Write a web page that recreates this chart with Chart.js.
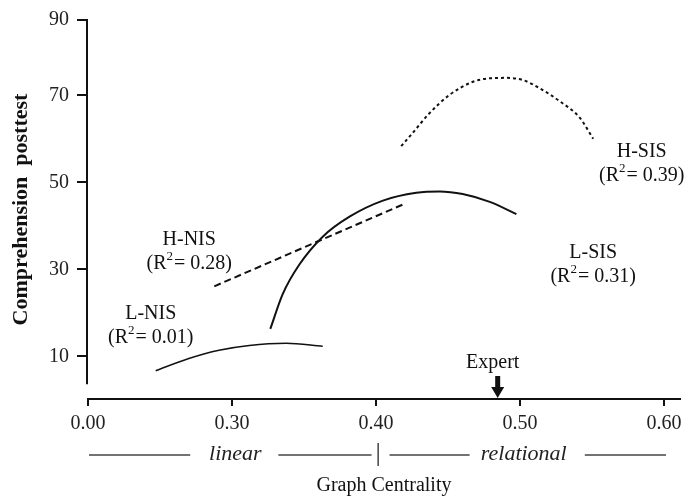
<!DOCTYPE html>
<html>
<head>
<meta charset="utf-8">
<script src="https://cdn.jsdelivr.net/npm/chart.js@4.4.1/dist/chart.umd.min.js"></script>
<style>
  body { margin: 0; background: #fff; }
  #wrap { width: 688px; height: 499px; }
</style>
</head>
<body>
<div id="wrap"><canvas id="myChart"></canvas></div>
<script>
// curves (x = graph centrality, y = comprehension posttest)
// note: the x axis is broken, the first tick "0.00" sits where 0.20 would be
const lNisX = [0.247, 0.270, 0.291, 0.312, 0.3375, 0.363];
const lNisY = [6.7, 9.5, 11.4, 12.5, 13.0, 12.3];

const hNisX = [0.2877, 0.4187];
const hNisY = [26.1, 44.9];

const lSisX = [0.3266, 0.3352, 0.3468, 0.363, 0.3816, 0.4048, 0.428, 0.4442, 0.4602, 0.479, 0.4975];
const lSisY = [16.3, 24.3, 31.1, 37.5, 42.1, 45.8, 47.6, 47.9, 47.3, 45.5, 42.7];

const hSisX = [0.4175, 0.4256, 0.4372, 0.4511, 0.4673, 0.479, 0.4906, 0.5021, 0.5137, 0.5277, 0.5416, 0.5508];
const hSisY = [58.3, 61.4, 65.9, 70.1, 73.1, 73.9, 74.0, 73.5, 71.6, 68.6, 64.8, 60.0];

const xTickValues = [0.2, 0.3, 0.4, 0.5, 0.6];
const xTickLabels = ['0.00', '0.30', '0.40', '0.50', '0.60'];
const yTickValues = [10, 30, 50, 70, 87.3];
const yTickLabels = ['10', '30', '50', '70', '90'];

const groupNames = ['L-NIS', 'H-NIS', 'L-SIS', 'H-SIS'];
const groupR2 = ['0.01', '0.28', '0.31', '0.39'];
const expertX = 0.4845;

// where the group labels sit (data units)
const labelPos = [
  { x: 0.2436, y: 19.8 },
  { x: 0.2703, y: 36.8 },
  { x: 0.5508, y: 33.9 },
  { x: 0.5845, y: 57.0 }
];

const SERIF = '"Liberation Serif", "Times New Roman", serif';

function toPoints(xs, ys) {
  return xs.map((x, i) => ({ x: x, y: ys[i] }));
}

function drawR2(ctx, r2, cx, cy) {
  const main = '20px ' + SERIF;
  const sup = '13px ' + SERIF;
  ctx.font = main;
  const w1 = ctx.measureText('(R').width;
  const w3 = ctx.measureText('= ' + r2 + ')').width;
  ctx.font = sup;
  const w2 = ctx.measureText('2').width + 1;
  let x = cx - (w1 + w2 + w3) / 2;
  ctx.textAlign = 'left';
  ctx.textBaseline = 'middle';
  ctx.font = main;
  ctx.fillText('(R', x, cy);
  x += w1;
  ctx.font = sup;
  ctx.fillText('2', x, cy - 7);
  x += w2;
  ctx.font = main;
  ctx.fillText('= ' + r2 + ')', x, cy);
}

const extras = {
  id: 'extras',
  afterDraw(chart) {
    const ctx = chart.ctx;
    const xs = chart.scales.x;
    const ys = chart.scales.y;
    const area = chart.chartArea;
    ctx.save();
    ctx.fillStyle = '#111';
    ctx.strokeStyle = '#111';

    // y axis line stops short of the x axis
    ctx.lineWidth = 2;
    ctx.beginPath();
    ctx.moveTo(area.left - 1, area.top);
    ctx.lineTo(area.left - 1, ys.getPixelForValue(3.6));
    ctx.stroke();

    // group labels
    groupNames.forEach((name, i) => {
      const px = xs.getPixelForValue(labelPos[i].x);
      const py = ys.getPixelForValue(labelPos[i].y);
      ctx.font = '20px ' + SERIF;
      ctx.textAlign = 'center';
      ctx.textBaseline = 'middle';
      ctx.fillText(name, px, py);
      drawR2(ctx, groupR2[i], px, py + 24);
    });

    // expert marker
    const ex = xs.getPixelForValue(expertX);
    const base = area.bottom - 1;
    ctx.font = '20px ' + SERIF;
    ctx.textAlign = 'center';
    ctx.textBaseline = 'middle';
    ctx.fillText('Expert', ex - 5, base - 35);
    ctx.fillRect(ex - 2.5, base - 22, 5, 12);
    ctx.beginPath();
    ctx.moveTo(ex - 6.5, base - 11);
    ctx.lineTo(ex + 6.5, base - 11);
    ctx.lineTo(ex, base);
    ctx.closePath();
    ctx.fill();

    // linear | relational row
    const rowY = area.bottom + 56;
    ctx.strokeStyle = '#444';
    ctx.lineWidth = 1.5;
    const segs = [[0.2007, 0.271], [0.3322, 0.3969], [0.4094, 0.465], [0.545, 0.6014]];
    segs.forEach(s => {
      ctx.beginPath();
      ctx.moveTo(xs.getPixelForValue(s[0]), rowY);
      ctx.lineTo(xs.getPixelForValue(s[1]), rowY);
      ctx.stroke();
    });
    const sep = xs.getPixelForValue(0.4015);
    ctx.beginPath();
    ctx.moveTo(sep, rowY - 12);
    ctx.lineTo(sep, rowY + 11);
    ctx.stroke();
    ctx.font = 'italic 22px ' + SERIF;
    ctx.fillStyle = '#222';
    ctx.fillText('linear', xs.getPixelForValue(0.3023), rowY - 1);
    ctx.fillText('relational', xs.getPixelForValue(0.5026), rowY - 1);
    ctx.restore();
  }
};

window.onload = function () {
  const ctx = document.getElementById('myChart').getContext('2d');

  const lineStyle = {
    borderColor: '#111',
    pointRadius: 0,
    fill: false,
    cubicInterpolationMode: 'monotone'
  };

  new Chart(ctx, {
    type: 'line',
    data: {
      datasets: [
        Object.assign({ label: 'L-NIS', data: toPoints(lNisX, lNisY), borderWidth: 1.5 }, lineStyle),
        Object.assign({ label: 'H-NIS', data: toPoints(hNisX, hNisY), borderWidth: 2, borderDash: [7, 4] }, lineStyle),
        Object.assign({ label: 'L-SIS', data: toPoints(lSisX, lSisY), borderWidth: 2 }, lineStyle),
        Object.assign({ label: 'H-SIS', data: toPoints(hSisX, hSisY), borderWidth: 2, borderDash: [3, 3] }, lineStyle)
      ]
    },
    options: {
      responsive: true,
      maintainAspectRatio: false,
      animation: false,
      layout: { padding: { top: 16, right: 8, left: 0, bottom: 0 } },
      plugins: { legend: { display: false }, tooltip: { enabled: false } },
      scales: {
        x: {
          type: 'linear',
          min: 0.2,
          max: 0.6111,
          afterFit: (scale) => { scale.height = 100; },
          afterBuildTicks: (scale) => { scale.ticks = xTickValues.map(v => ({ value: v })); },
          border: { display: true, color: '#111', width: 2 },
          grid: { drawOnChartArea: false, drawTicks: true, tickLength: 7, color: '#111', lineWidth: 2 },
          ticks: {
            color: '#222',
            padding: 6,
            font: { family: SERIF, size: 20 },
            callback: (v) => xTickLabels[xTickValues.indexOf(v)]
          },
          title: {
            display: true,
            text: 'Graph Centrality',
            color: '#111',
            font: { family: SERIF, size: 20 },
            padding: { top: 0, bottom: 1 }
          }
        },
        y: {
          type: 'linear',
          min: 0.2,
          max: 87.3,
          afterFit: (scale) => { scale.width = 88; },
          afterBuildTicks: (scale) => { scale.ticks = yTickValues.map(v => ({ value: v })); },
          border: { display: false },
          grid: { drawOnChartArea: false, drawTicks: true, tickLength: 11, color: '#111', lineWidth: 2 },
          ticks: {
            color: '#222',
            padding: 8,
            font: { family: SERIF, size: 20 },
            callback: (v) => yTickLabels[yTickValues.indexOf(v)]
          },
          title: {
            display: true,
            text: 'Comprehension  posttest',
            color: '#111',
            font: { family: SERIF, size: 22, weight: 'bold' },
            padding: { top: 8, bottom: 0 }
          }
        }
      }
    },
    plugins: [extras]
  });
};
</script>
</body>
</html>
